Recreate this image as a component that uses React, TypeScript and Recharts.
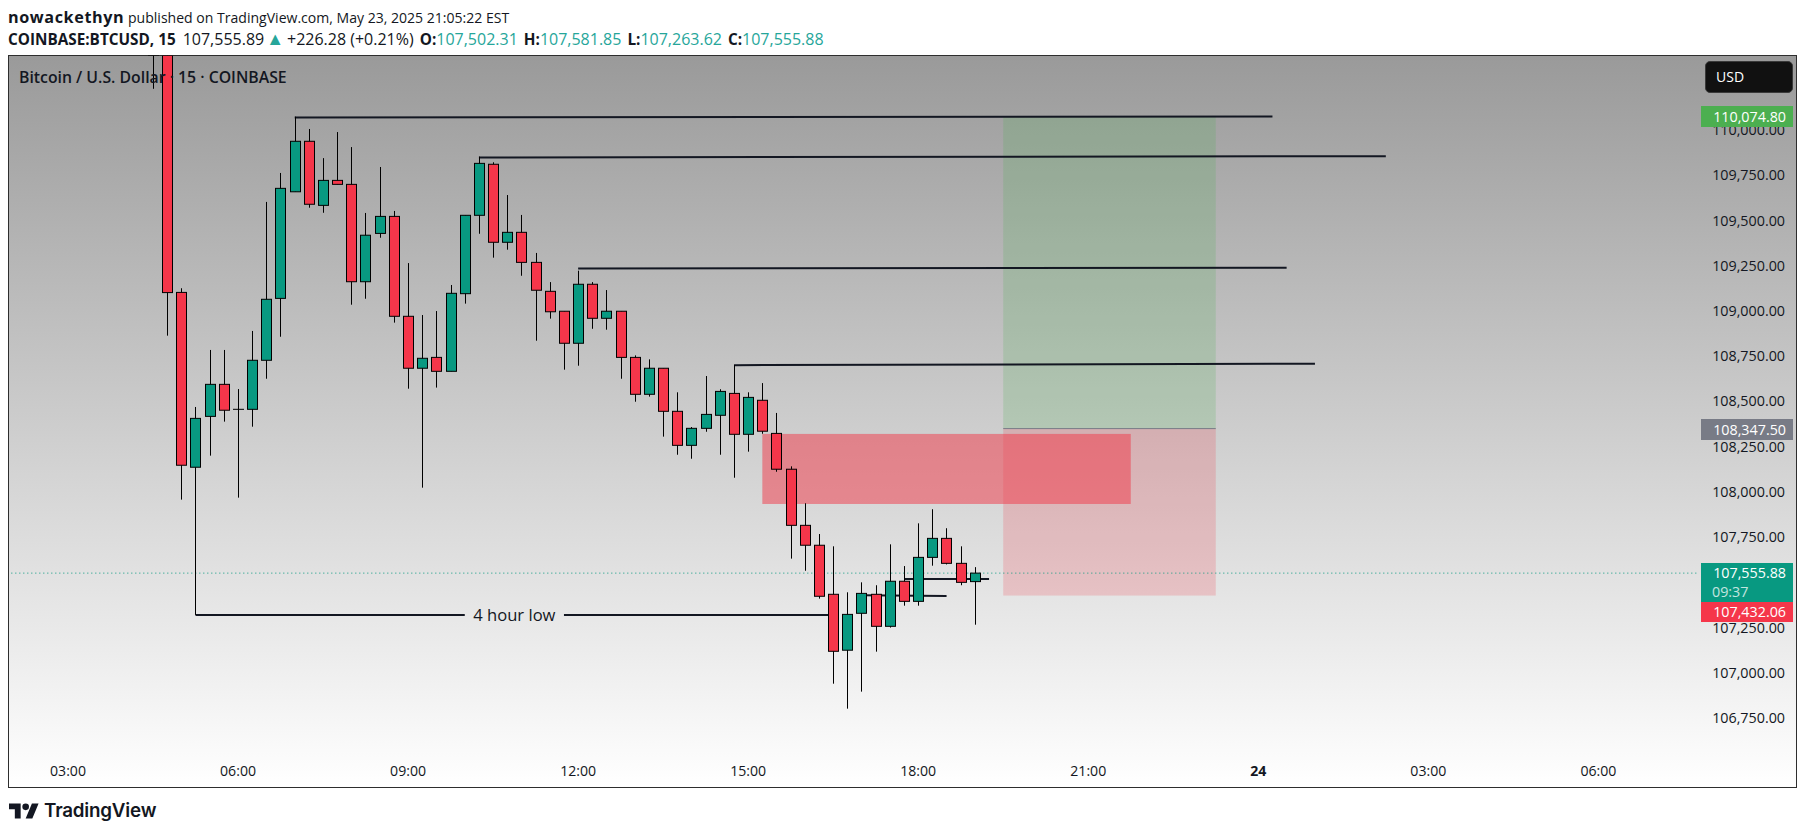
import React from "react";
import {
  ComposedChart,
  Bar,
  XAxis,
  YAxis,
  ReferenceLine,
  ReferenceArea,
} from "recharts";

const firstSlot = -4;
const slotCount = 127;
const firstCandle = 6;

const opens = [110409, 110409, 109100, 108134, 108415, 108592, 108454, 108454, 108725, 109067, 109656, 109935, 109581, 109719, 109697, 109159, 109426, 109520, 108968, 108681, 108741, 108664, 109093, 109526, 109808, 109377, 109432, 109266, 109106, 108996, 108819, 109145, 108957, 108996, 108741, 108537, 108681, 108443, 108255, 108349, 108421, 108542, 108316, 108504, 108321, 108123, 107813, 107703, 107432, 107123, 107327, 107432, 107255, 107504, 107393, 107636, 107741, 107603, 107502];
const highs = [110409, 110409, 109123, 108467, 108782, 108782, 108566, 108887, 109600, 109760, 110071, 110003, 109842, 109986, 109903, 109539, 109793, 109550, 109262, 108975, 108997, 109141, 109526, 109850, 109819, 109638, 109528, 109318, 109157, 108996, 109220, 109157, 109113, 108996, 108752, 108730, 108681, 108548, 108356, 108638, 108565, 108699, 108548, 108599, 108434, 108139, 107935, 107765, 107697, 107443, 107498, 107482, 107708, 107588, 107824, 107902, 107797, 107697, 107582];
const lows = [110225, 108861, 107955, 107318, 108198, 108386, 107966, 108358, 108623, 108855, 109656, 109568, 109540, 109697, 109032, 109065, 109402, 108933, 108568, 108021, 108574, 108664, 109038, 109424, 109292, 109336, 109192, 108833, 108955, 108673, 108695, 108899, 108894, 108623, 108496, 108524, 108303, 108203, 108181, 108330, 108203, 108076, 108220, 108319, 108109, 107629, 107562, 107408, 106938, 106800, 106894, 107115, 107248, 107369, 107369, 107590, 107597, 107482, 107264];
const closes = [110409, 109099, 108145, 108404, 108592, 108449, 108454, 108725, 109062, 109675, 109935, 109587, 109719, 109697, 109159, 109416, 109520, 108968, 108681, 108736, 108664, 109095, 109526, 109813, 109377, 109432, 109266, 109112, 108993, 108819, 109145, 108957, 108996, 108741, 108537, 108681, 108443, 108255, 108349, 108426, 108553, 108316, 108520, 108333, 108123, 107813, 107703, 107421, 107117, 107321, 107437, 107255, 107504, 107393, 107636, 107741, 107603, 107498, 107549];

const priceTicks = [106750, 107000, 107250, 107500, 107750, 108000, 108250, 108500, 108750, 109000, 109250, 109500, 109750, 110000];
const timeTickSlots = [0, 12, 24, 36, 48, 60, 72, 84, 96, 108];
const timeTickLabels = ["03:00", "06:00", "09:00", "12:00", "15:00", "18:00", "21:00", "24", "03:00", "06:00"];

const priceDomain = [106360, 110409];
const lastPriceLevel = 107549;

const lineStarts = [16, 29, 36, 47, 9, 35, 59, 56];
const lineEnds = [85, 93, 86, 88, 28, 54, 65, 62];
const lineStartPrices = [110066, 109845, 109232, 108698, 107318, 107318, 107516, 107426];
const lineEndPrices = [110072, 109853, 109236, 108706, 107318, 107318, 107516, 107422];

const rows = Array.from({ length: slotCount }, (_, i) => {
  const k = firstSlot + i;
  const c = k - firstCandle;
  const has = c >= 0 && c < opens.length;
  return {
    k,
    range: has ? [lows[c], highs[c]] : null,
    open: has ? opens[c] : null,
    high: has ? highs[c] : null,
    low: has ? lows[c] : null,
    close: has ? closes[c] : null,
  };
});

const UP = "#089981";
const DOWN = "#F5364A";
const INK = "#131722";
const FONT = "'Open Sans', sans-serif";

function Candle(props: any) {
  const { x, y, width, height, payload } = props;
  if (!payload || payload.open == null) return null;
  const span = payload.high - payload.low;
  const perUnit = span > 0 ? height / span : 0;
  const cx = Math.round(x + width / 2) + 0.5;
  const topP = Math.max(payload.open, payload.close);
  const botP = Math.min(payload.open, payload.close);
  const bodyTop = y + (payload.high - topP) * perUnit;
  const bodyBot = y + (payload.high - botP) * perUnit;
  const isDoji = payload.open === payload.close;
  const color = payload.close >= payload.open ? UP : DOWN;
  return (
    <g>
      <line x1={cx} x2={cx} y1={y} y2={y + height} stroke="#000" strokeWidth={1} />
      {isDoji ? (
        <line x1={cx - 5.5} x2={cx + 5.5} y1={bodyTop} y2={bodyTop} stroke="#000" strokeWidth={1} />
      ) : (
        <rect x={cx - 5} y={bodyTop} width={10} height={Math.max(bodyBot - bodyTop, 1)} fill={color} stroke="#000" strokeWidth={1} />
      )}
    </g>
  );
}

function PriceTick(props: any) {
  const { y, payload } = props;
  const text = Number(payload.value).toLocaleString("en-US", { minimumFractionDigits: 2, maximumFractionDigits: 2 });
  return (
    <text x={1785} y={y} textAnchor="end" dominantBaseline="central" fill={INK} fontFamily={FONT} fontSize={14.3}>
      {text}
    </text>
  );
}

function TimeTick(props: any) {
  const { x, payload } = props;
  const label = timeTickLabels[timeTickSlots.indexOf(payload.value)];
  return (
    <text x={x} y={770.5} textAnchor="middle" dominantBaseline="central" fill={INK} fontFamily={FONT} fontSize={14.1} fontWeight={label === "24" ? 700 : 400}>
      {label}
    </text>
  );
}

function CenteredArea(props: any) {
  const { x, y, width, height, fill, band } = props;
  return <rect x={x + band / 2} y={y} width={width - band} height={height} fill={fill} />;
}

function Badge({ top, height, bg, text, sub }: { top: number; height: number; bg: string; text: string; sub?: string }) {
  return (
    <div style={{ position: "absolute", left: 1701, top, width: 92, height, background: bg, color: "#fff", fontFamily: FONT, fontSize: 14.3, lineHeight: `${height > 30 ? 19 : height}px` }}>
      <div style={{ position: "absolute", right: 7, top: 0, whiteSpace: "nowrap" }}>{text}</div>
      {sub ? <div style={{ position: "absolute", left: 11, top: 19, opacity: 0.75 }}>{sub}</div> : null}
    </div>
  );
}

const teal = { color: "#26a69a" };
const label2 = { fontSize: 15.3 };

export default function App() {
  const band = 14.17;
  return (
    <div style={{ position: "absolute", left: 0, top: 0, width: 1806, height: 835, background: "#fff", overflow: "hidden", fontFamily: FONT, color: INK }}>
      <div style={{ position: "absolute", left: 8, top: 5, fontSize: 14.05, lineHeight: "24px", whiteSpace: "nowrap" }}>
        <b style={{ fontSize: 16.2, letterSpacing: 0.6 }}>nowackethyn</b> published on TradingView.com, May 23, 2025 21:05:22 EST
      </div>
      <div style={{ position: "absolute", left: 8, top: 27, fontSize: 16, lineHeight: "24px", whiteSpace: "nowrap" }}>
        <b style={label2}>COINBASE:BTCUSD, 15</b>
        <span style={{ marginLeft: 7 }}>107,555.89</span>
        <span style={{ ...teal, fontSize: 18, lineHeight: 0, margin: "0 3px 0 2px" }}>▲</span>
        +226.28 (+0.21%)
        <b style={{ ...label2, marginLeft: 6 }}>O:</b><span style={teal}>107,502.31</span>
        <b style={{ ...label2, marginLeft: 6 }}>H:</b><span style={teal}>107,581.85</span>
        <b style={{ ...label2, marginLeft: 6 }}>L:</b><span style={teal}>107,263.62</span>
        <b style={{ ...label2, marginLeft: 6 }}>C:</b><span style={teal}>107,555.88</span>
      </div>

      <div style={{ position: "absolute", left: 8, top: 55, width: 1789, height: 733, boxSizing: "border-box", border: "1px solid #2e2e2e", background: "linear-gradient(180deg, #9a9a9a 0%, #ffffff 100%)" }} />

      <div style={{ position: "absolute", left: 0, top: 0 }}>
        <ComposedChart
          width={1806}
          height={835}
          data={rows}
          margin={{ top: 55.5, bottom: 45.7, left: 4.24, right: 1.17 }}
          barCategoryGap={0}
          style={{ background: "transparent" }}
        >
          <XAxis dataKey="k" type="category" height={1} interval={0} ticks={timeTickSlots} axisLine={false} tickLine={false} tick={<TimeTick />} />
          <YAxis orientation="right" type="number" width={1} domain={priceDomain} ticks={priceTicks} interval={0} axisLine={false} tickLine={false} tick={<PriceTick />} allowDataOverflow />

          <ReferenceArea x1={66} x2={81} y1={110074.8} y2={108347.5} fill="rgba(76,175,80,0.2)" shape={<CenteredArea band={band} />} />
          <ReferenceArea x1={66} x2={81} y1={108347.5} y2={107425} fill="rgba(242,54,69,0.2)" shape={<CenteredArea band={band} />} />
          <ReferenceArea x1={49} x2={75} y1={108318} y2={107931} fill="rgba(242,54,69,0.5)" shape={<CenteredArea band={band} />} />
          <ReferenceLine segment={[{ x: 66, y: 108347.5 }, { x: 81, y: 108347.5 }]} stroke="#787b86" strokeWidth={1} />

          {lineStarts.map((s, i) => (
            <ReferenceLine
              key={i}
              segment={[{ x: s, y: lineStartPrices[i] }, { x: lineEnds[i], y: lineEndPrices[i] }]}
              stroke={INK}
              strokeWidth={2}
            />
          ))}
          <ReferenceLine
            segment={[{ x: 28, y: 107318 }, { x: 35, y: 107318 }]}
            stroke="none"
            label={{ value: "4 hour low", position: "center", fill: INK, fontSize: 16.6, fontFamily: FONT }}
          />
          <ReferenceLine segment={[{ x: -4, y: lastPriceLevel }, { x: 115, y: lastPriceLevel }]} stroke={UP} strokeWidth={1} strokeDasharray="1 3" />

          <Bar dataKey="range" isAnimationActive={false} shape={<Candle />} zIndex={500} />
        </ComposedChart>
      </div>

      <div style={{ position: "absolute", left: 19, top: 66, fontSize: 15.8, fontWeight: 600, lineHeight: "22px", whiteSpace: "nowrap", color: INK }}>
        Bitcoin / U.S. Dollar · 15 · COINBASE
      </div>

      <div style={{ position: "absolute", left: 1705, top: 61, width: 88, height: 32, boxSizing: "border-box", background: "#111", border: "1px solid #3a3a3a", borderRadius: 5, color: "#fff", fontSize: 14, lineHeight: "30px", paddingLeft: 10 }}>USD</div>
      <Badge top={106} height={21} bg="#4CAF50" text="110,074.80" />
      <Badge top={419} height={21} bg="#787B86" text="108,347.50" />
      <Badge top={563} height={39} bg={UP} text="107,555.88" sub="09:37" />
      <Badge top={602} height={20} bg={DOWN} text="107,432.06" />

      <svg style={{ position: "absolute", left: 9, top: 803 }} width={30} height={16} viewBox="0 4 36 18">
        <path d="M14 22H7V11H0V4h14v18zM28 22h-8l7.5-18h8L28 22z" fill={INK} />
        <circle cx={20} cy={8} r={4} fill={INK} />
      </svg>
      <div style={{ position: "absolute", left: 44, top: 798, fontFamily: "Inter, sans-serif", fontWeight: 600, fontSize: 18.8, lineHeight: "26px", color: INK, letterSpacing: -0.2 }}>TradingView</div>
    </div>
  );
}
